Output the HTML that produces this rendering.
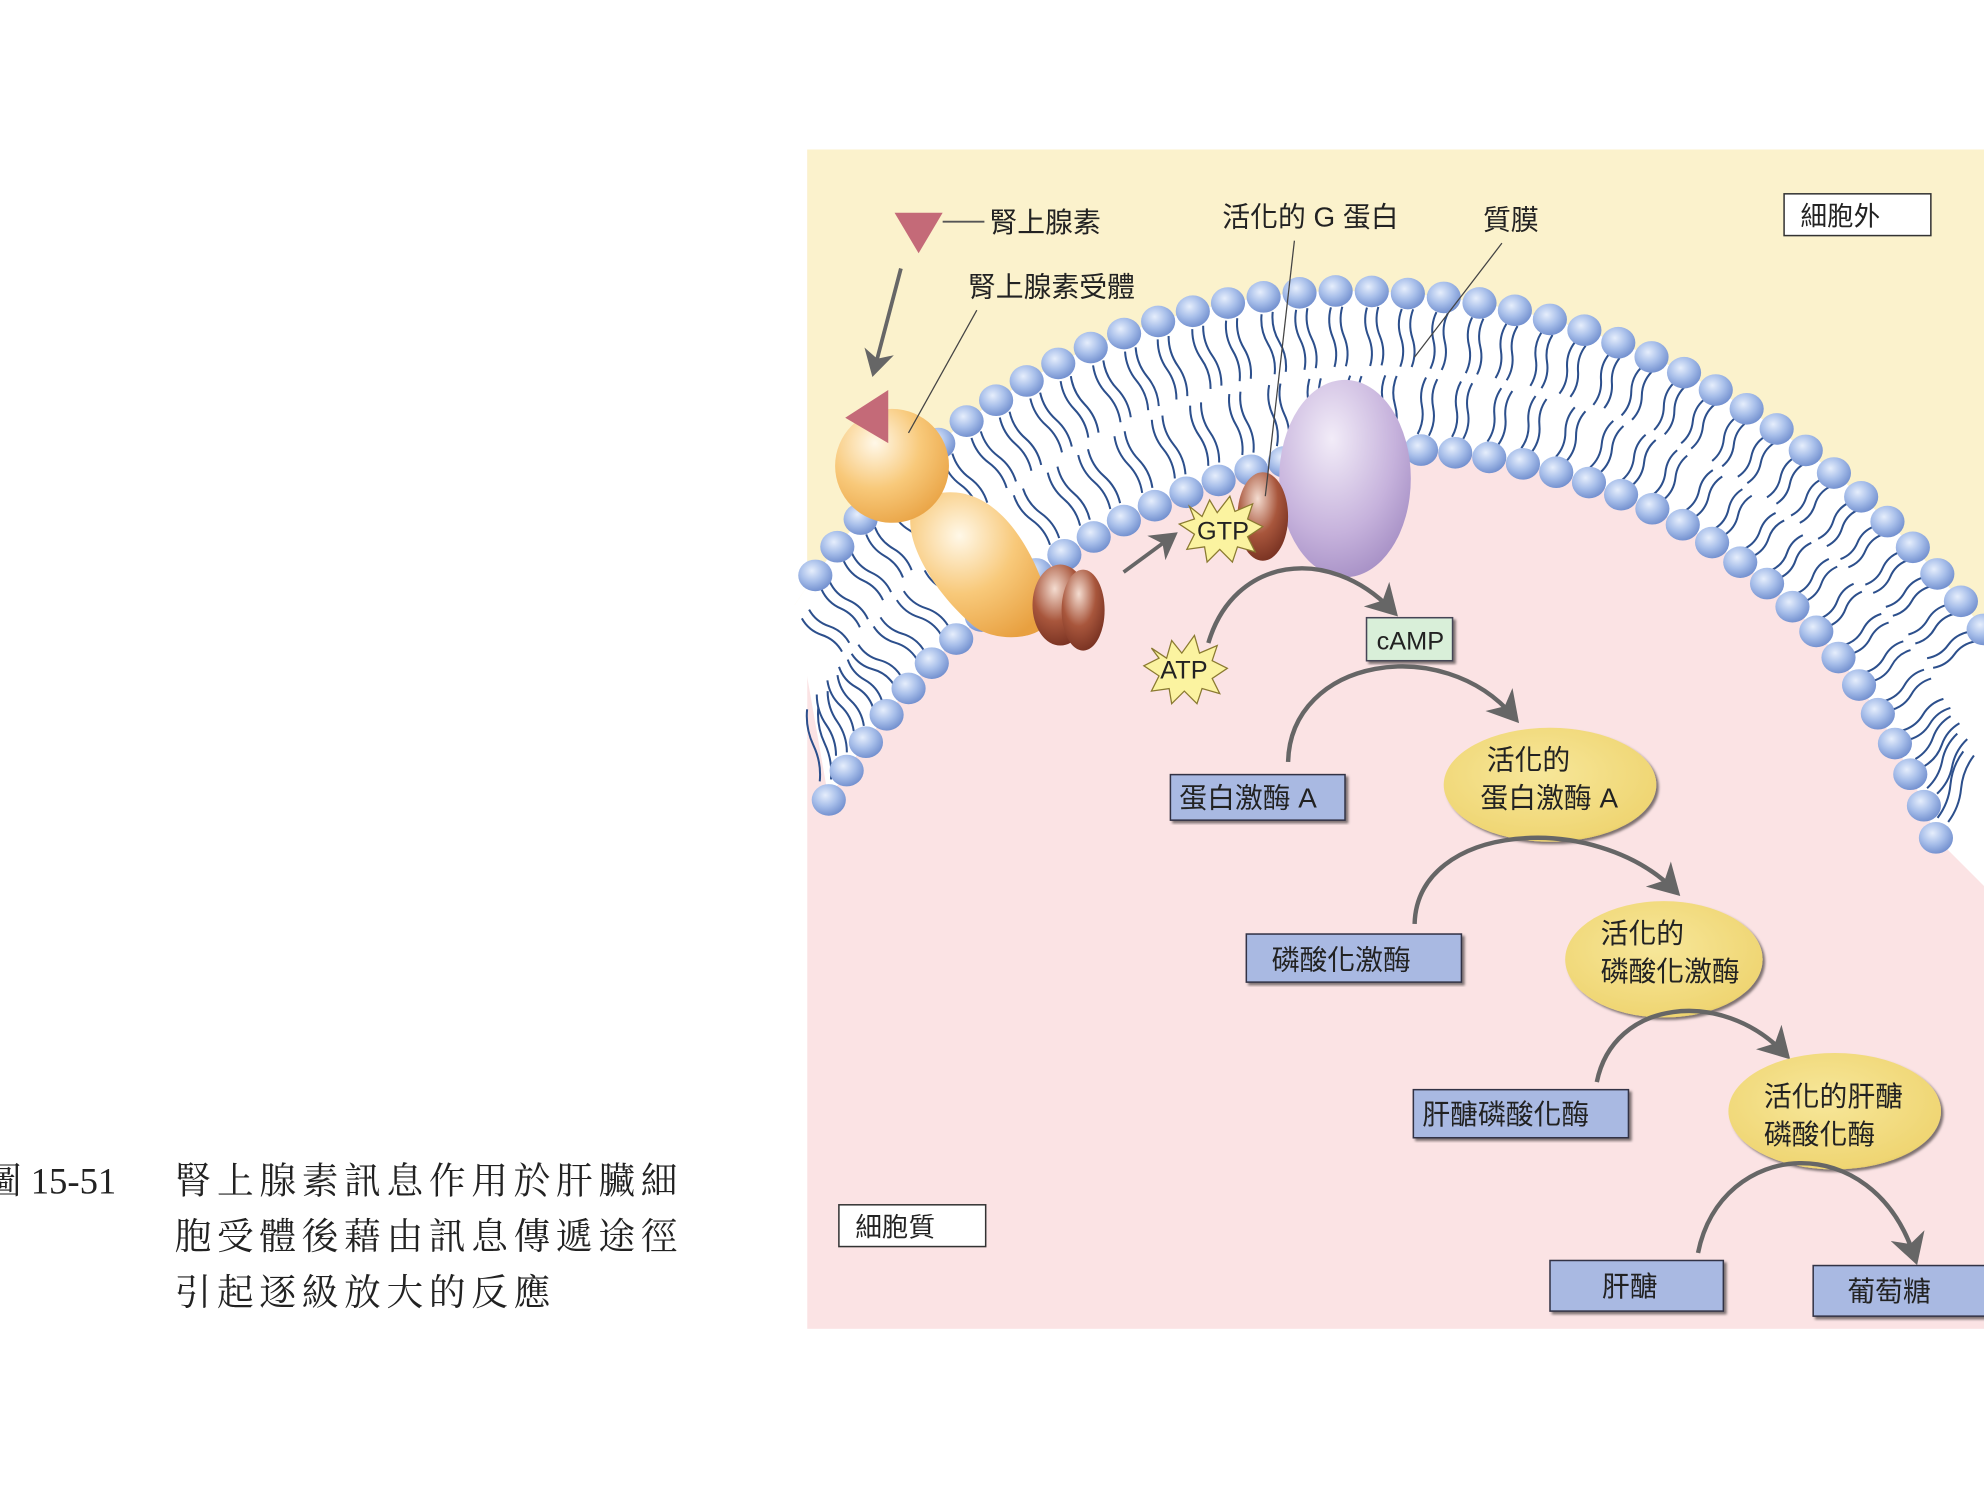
<!DOCTYPE html>
<html><head><meta charset="utf-8"><style>
html,body{margin:0;padding:0;background:#fff;}
svg{display:block}
text{font-family:"Liberation Sans","Noto Sans CJK TC",sans-serif;fill:#222}
.cap{font-family:"Liberation Serif","Noto Serif CJK SC",serif;font-size:29px;fill:#222}
</style></head><body>
<svg id="s" width="1984" height="1491" viewBox="0 0 1568 1178" xmlns="http://www.w3.org/2000/svg">
<defs>
<radialGradient id="ball" cx="0.4" cy="0.35" r="0.7"><stop offset="0" stop-color="#e6eefc"/><stop offset="0.5" stop-color="#a8bfea"/><stop offset="1" stop-color="#6d8bcc"/></radialGradient>
<radialGradient id="rec" cx="0.35" cy="0.3" r="0.8"><stop offset="0" stop-color="#fff8e8"/><stop offset="0.5" stop-color="#f8c97a"/><stop offset="1" stop-color="#e8a040"/></radialGradient>
<radialGradient id="pur" cx="0.4" cy="0.3" r="0.8"><stop offset="0" stop-color="#f2ecf8"/><stop offset="0.6" stop-color="#c6b2dc"/><stop offset="1" stop-color="#9f88c0"/></radialGradient>
<radialGradient id="brn" cx="0.4" cy="0.3" r="0.8"><stop offset="0" stop-color="#f4dcd0"/><stop offset="0.5" stop-color="#a8563c"/><stop offset="1" stop-color="#6e2a1c"/></radialGradient>
<radialGradient id="yel" cx="0.45" cy="0.4" r="0.7"><stop offset="0" stop-color="#f7e79a"/><stop offset="0.85" stop-color="#efd572"/><stop offset="1" stop-color="#b89a3a"/></radialGradient>
<marker id="ar" markerWidth="8" markerHeight="8" refX="5" refY="4" orient="auto" markerUnits="strokeWidth"><path d="M0,0 L7,4 L0,8 L2,4z" fill="#666"/></marker>
<filter id="sh"><feDropShadow dx="2" dy="2" stdDeviation="1" flood-color="#000" flood-opacity="0.5"/></filter>
</defs>
<rect x="638" y="118" width="930" height="932" fill="#fbe3e4"/>
<path id="yellow" fill="#fbf2cc" d=""/>
<path id="band" fill="#ffffff" d=""/>
<path id="outer" fill="none" stroke="none" d="M 628 478 C 760 280, 950 225, 1080 230 C 1250 235, 1430 310, 1585 520"/>
<path id="inner" fill="none" stroke="none" d="M 655 632 C 760 450, 950 360, 1090 355 C 1250 352, 1450 430, 1530 662"/>
<g id="tails" stroke="#2c4f8c" stroke-width="1.6" fill="none"></g>
<g id="balls"></g>

<path d="M740 390 C 790 380, 820 440, 830 480 C 835 505, 790 510, 770 495 C 740 470, 715 430, 720 405 Z" fill="url(#rec)"/>
<circle cx="705" cy="368" r="45" fill="url(#rec)"/>
<path d="M668 330 L702 308 L702 350 Z" fill="#c46a78"/>
<ellipse cx="838" cy="478" rx="22" ry="32" fill="url(#brn)"/>
<ellipse cx="856" cy="482" rx="17" ry="32" fill="url(#brn)"/>
<line x1="888" y1="452" x2="926" y2="424" stroke="#666" stroke-width="3" marker-end="url(#ar)"/>
<ellipse cx="1063" cy="378" rx="52" ry="78" fill="url(#pur)"/>
<ellipse cx="998" cy="408" rx="20" ry="35" fill="url(#brn)"/>
<polygon points="940,400 950,408 956,395 962,405 972,392 976,404 990,398 986,410 998,416 986,424 992,436 978,432 974,444 964,434 954,444 952,432 938,434 944,422 932,414 944,410" fill="#fbf3a0" stroke="#8a7a30" stroke-width="1"/>
<text x="946" y="426" font-size="20">GTP</text>
<path d="M707 168 L745 168 L726 200 Z" fill="#c46a78"/>
<line x1="745" y1="175" x2="778" y2="175" stroke="#555" stroke-width="1.5"/>
<text x="782" y="183" font-size="22">腎上腺素</text>
<line x1="712" y1="212" x2="691" y2="292" stroke="#666" stroke-width="3" marker-end="url(#ar)"/>
<text x="765" y="234" font-size="22">腎上腺素受體</text>
<line x1="772" y1="245" x2="718" y2="342" stroke="#444" stroke-width="1"/>
<text x="966" y="179" font-size="22">活化的 G 蛋白</text>
<line x1="1023" y1="190" x2="1000" y2="392" stroke="#444" stroke-width="1"/>
<text x="1172" y="181" font-size="22">質膜</text>
<line x1="1187" y1="192" x2="1118" y2="282" stroke="#444" stroke-width="1"/>
<rect x="1410" y="153" width="116" height="33" fill="#fff" stroke="#333" stroke-width="1.2"/>
<text x="1423" y="178" font-size="21">細胞外</text>
<rect x="663" y="952" width="116" height="33" fill="#fff" stroke="#333" stroke-width="1.2"/>
<text x="676" y="977" font-size="21">細胞質</text>

<path d="M955 508 C 975 440, 1050 430, 1100 482" fill="none" stroke="#666" stroke-width="3.5" marker-end="url(#ar)"/>
<polygon points="910,512 922,520 926,506 934,516 944,502 948,516 962,510 958,522 970,528 958,536 964,548 950,544 946,556 936,546 926,556 924,544 910,546 916,534 904,526 916,520" fill="#fbf3a0" stroke="#8a7a30" stroke-width="1"/>
<text x="917" y="536" font-size="20">ATP</text>
<rect x="1080" y="488" width="68" height="34" fill="#d9efd9" stroke="#445" stroke-width="1.2" filter="url(#sh)"/>
<text x="1088" y="513" font-size="20">cAMP</text>

<path d="M1018 602 C 1020 520, 1140 500, 1196 566" fill="none" stroke="#666" stroke-width="3.5" marker-end="url(#ar)"/>
<rect x="925" y="612" width="138" height="36" fill="#a9b9e2" stroke="#334" stroke-width="1.2" filter="url(#sh)"/>
<text x="932" y="638" font-size="22">蛋白激酶 A</text>
<ellipse cx="1225" cy="620" rx="84" ry="45" fill="url(#yel)" filter="url(#sh)"/>
<text x="1175" y="608" font-size="22">活化的</text>
<text x="1170" y="638" font-size="22">蛋白激酶 A</text>

<path d="M1118 730 C 1120 650, 1260 640, 1323 703" fill="none" stroke="#666" stroke-width="3.5" marker-end="url(#ar)"/>
<rect x="985" y="738" width="170" height="38" fill="#a9b9e2" stroke="#334" stroke-width="1.2" filter="url(#sh)"/>
<text x="1005" y="766" font-size="22">磷酸化激酶</text>
<ellipse cx="1315" cy="758" rx="78" ry="46" fill="url(#yel)" filter="url(#sh)"/>
<text x="1265" y="745" font-size="22">活化的</text>
<text x="1265" y="775" font-size="22">磷酸化激酶</text>

<path d="M1262 855 C 1275 790, 1360 780, 1410 832" fill="none" stroke="#666" stroke-width="3.5" marker-end="url(#ar)"/>
<rect x="1117" y="861" width="170" height="38" fill="#a9b9e2" stroke="#334" stroke-width="1.2" filter="url(#sh)"/>
<text x="1124" y="888" font-size="22">肝醣磷酸化酶</text>
<ellipse cx="1450" cy="878" rx="84" ry="46" fill="url(#yel)" filter="url(#sh)"/>
<text x="1394" y="874" font-size="22">活化的肝醣</text>
<text x="1394" y="904" font-size="22">磷酸化酶</text>

<path d="M1342 990 C 1360 900, 1480 890, 1513 993" fill="none" stroke="#666" stroke-width="3.5" marker-end="url(#ar)"/>
<rect x="1225" y="996" width="137" height="40" fill="#a9b9e2" stroke="#334" stroke-width="1.2" filter="url(#sh)"/>
<text x="1266" y="1024" font-size="22">肝醣</text>
<rect x="1433" y="1000" width="140" height="40" fill="#a9b9e2" stroke="#334" stroke-width="1.2" filter="url(#sh)"/>
<text x="1460" y="1028" font-size="22">葡萄糖</text>

<text class="cap" x="-12" y="943">圖 15-51</text>
<text class="cap" x="138" y="943" letter-spacing="4.5">腎上腺素訊息作用於肝臟細</text>
<text class="cap" x="138" y="987" letter-spacing="4.5">胞受體後藉由訊息傳遞途徑</text>
<text class="cap" x="138" y="1031" letter-spacing="4.5">引起逐級放大的反應</text>
</svg>
<script>
(function(){
var NS="http://www.w3.org/2000/svg";
var o=document.getElementById('outer'),i=document.getElementById('inner');
var Lo=o.getTotalLength(),Li=i.getTotalLength();
function pts(p,L,n){var a=[];for(var k=0;k<=n;k++){var q=p.getPointAtLength(L*k/n);a.push(q);}return a;}
var po=pts(o,Lo,120),pi=pts(i,Li,120);
var d="M638 118 H1568 V"+po[po.length-1].y.toFixed(1);
var rev=po.slice().reverse();d+=" L"+rev.map(function(q){return q.x.toFixed(1)+" "+q.y.toFixed(1)}).join(" L")+" L638 "+po[0].y.toFixed(1)+" Z";
document.getElementById('yellow').setAttribute('d',d);
var b="M"+po.map(function(q){return q.x.toFixed(1)+" "+q.y.toFixed(1)}).join(" L")+" L1568 700 L"+pi.slice().reverse().map(function(q){return q.x.toFixed(1)+" "+q.y.toFixed(1)}).join(" L")+" Z";
document.getElementById('band').setAttribute('d',b);
var tails=document.getElementById('tails'),balls=document.getElementById('balls');
function clip(x,y){return x>636&&x<1570&&y>118&&y<1050;}
var no=Math.round(Lo/28.5),ni=Math.round(Li/27);
function addBall(x,y){if(!clip(x,y))return;var c=document.createElementNS(NS,'ellipse');c.setAttribute('cx',x);c.setAttribute('cy',y);c.setAttribute('rx',13.5);c.setAttribute('ry',12.5);c.setAttribute('fill','url(#ball)');balls.appendChild(c);}
function tail(x1,y1,x2,y2){if(!clip(x1,y1))return;var dx=x2-x1,dy=y2-y1,len=Math.hypot(dx,dy),nx=-dy/len*4,ny=dx/len*4;
for(var s=-1;s<=1;s+=2){var ox=s*(-dy/len)*4.5,oy=s*(dx/len)*4.5;
var p=document.createElementNS(NS,'path');var ax=x1+ox,ay=y1+oy;
p.setAttribute('d',"M"+ax+" "+ay+" q"+(dx*0.25+nx)+" "+(dy*0.25+ny)+" "+dx*0.5+" "+dy*0.5+" t"+dx*0.5+" "+dy*0.5);tails.appendChild(p);}}
function nearest(arr,x,y){var best=arr[0],bd=1e9;arr.forEach(function(q){var d=(q.x-x)*(q.x-x)+(q.y-y)*(q.y-y);if(d<bd){bd=d;best=q;}});return best;}
for(var k=0;k<=no;k++){var q=o.getPointAtLength(Lo*k/no);var t=nearest(pi,q.x,q.y);var mx=q.x+(t.x-q.x)*0.47,my=q.y+(t.y-q.y)*0.47;tail(q.x+(t.x-q.x)*0.1,q.y+(t.y-q.y)*0.1,mx,my);}
for(var k=0;k<=ni;k++){var q=i.getPointAtLength(Li*k/ni);var t=nearest(po,q.x,q.y);var mx=q.x+(t.x-q.x)*0.47,my=q.y+(t.y-q.y)*0.47;tail(q.x+(t.x-q.x)*0.1,q.y+(t.y-q.y)*0.1,mx,my);}
for(var k=0;k<=no;k++){var q=o.getPointAtLength(Lo*k/no);addBall(q.x,q.y);}
for(var k=0;k<=ni;k++){var q=i.getPointAtLength(Li*k/ni);addBall(q.x,q.y);}
})();
</script>
</body></html>
